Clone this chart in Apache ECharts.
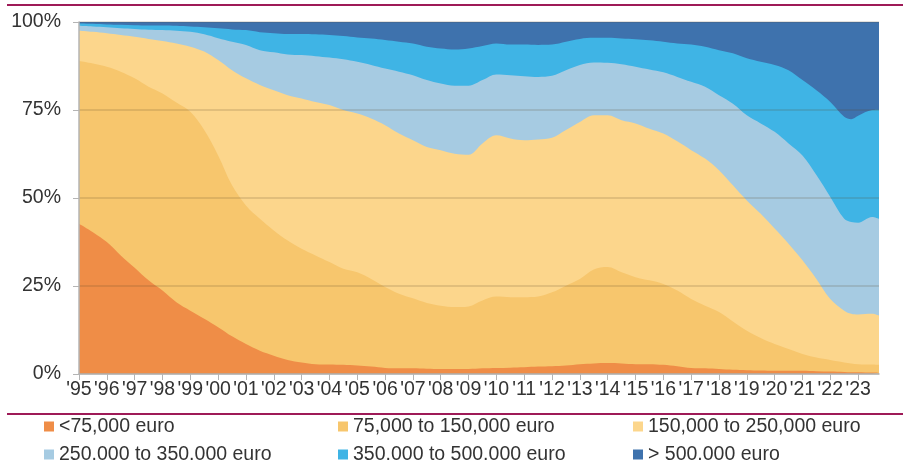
<!DOCTYPE html>
<html>
<head>
<meta charset="utf-8">
<title>House price classes</title>
<script src="https://cdn.jsdelivr.net/npm/echarts@6/dist/echarts.min.js"></script>
<style>
  html, body { margin: 0; padding: 0; background: #fff; }
  #chart { width: 906px; height: 461px; }
</style>
</head>
<body>
<div id="chart"></div>
<script>
// half-year periods (decimal years)
var periods = [1995, 1995.5, 1996, 1996.5, 1997, 1997.5, 1998, 1998.5, 1999, 1999.5,
    2000, 2000.5, 2001, 2001.5, 2002, 2002.5, 2003, 2003.5, 2004, 2004.5,
    2005, 2005.5, 2006, 2006.5, 2007, 2007.5, 2008, 2008.5, 2009, 2009.5,
    2010, 2010.5, 2011, 2011.5, 2012, 2012.5, 2013, 2013.5, 2014, 2014.5,
    2015, 2015.5, 2016, 2016.5, 2017, 2017.5, 2018, 2018.5, 2019, 2019.5,
    2020, 2020.5, 2021, 2021.5, 2022, 2022.5, 2022.75, 2023, 2023.5, 2023.75];

// share of transactions per price class (%)
var below75 = [42.7, 40.3, 37.5, 33.7, 30.2, 26.6, 23.7, 20.4, 18.0, 15.7,
    13.3, 10.7, 8.5, 6.6, 5.2, 4.0, 3.3, 2.8, 2.7, 2.6,
    2.4, 2.1, 1.7, 1.6, 1.6, 1.5, 1.4, 1.4, 1.4, 1.6,
    1.7, 1.8, 1.9, 2.1, 2.2, 2.4, 2.8, 3.0, 3.1, 3.0,
    2.8, 2.8, 2.6, 2.2, 1.7, 1.6, 1.4, 1.2, 1.1, 1.0,
    0.9, 0.9, 0.9, 0.8, 0.7, 0.6, 0.5, 0.5, 0.4, 0.4];
var from75to150 = [46.2, 47.9, 49.8, 52.2, 53.8, 55.0, 56.0, 56.7, 56.5, 53.6,
    48.8, 42.9, 39.4, 37.5, 35.6, 33.9, 32.3, 30.9, 29.1, 27.3,
    26.5, 24.9, 23.0, 21.2, 19.9, 18.7, 18.0, 17.6, 17.8, 19.3,
    20.3, 20.0, 19.9, 19.9, 21.0, 22.7, 24.2, 26.7, 27.3, 25.9,
    24.7, 23.8, 23.0, 21.5, 19.6, 17.8, 16.2, 13.7, 11.2, 9.2,
    7.6, 6.2, 4.8, 3.9, 3.3, 2.7, 2.5, 2.3, 2.3, 2.2];
var from150to250 = [8.6, 9.0, 9.5, 10.4, 11.8, 13.6, 14.9, 16.8, 18.5, 22.3,
    27.1, 32.7, 36.1, 38.0, 39.8, 41.3, 42.7, 43.6, 44.6, 45.1,
    45.1, 45.6, 46.0, 45.5, 44.9, 44.3, 44.2, 43.6, 43.1, 44.6,
    45.8, 45.1, 44.6, 44.6, 43.9, 44.2, 44.6, 43.8, 43.1, 43.2,
    43.7, 43.1, 42.7, 42.4, 42.3, 41.8, 40.3, 38.7, 37.0, 35.3,
    32.8, 29.9, 26.6, 22.3, 17.3, 14.7, 14.1, 14.1, 14.4, 14.0];
var from250to350 = [1.4, 1.5, 1.7, 1.9, 2.2, 2.6, 3.1, 3.6, 4.2, 4.9,
    6.2, 8.1, 9.5, 9.9, 10.8, 11.6, 12.3, 13.0, 13.5, 14.4,
    14.7, 15.2, 16.1, 17.6, 18.5, 19.0, 18.9, 19.3, 19.6, 18.0,
    17.3, 18.0, 18.2, 17.8, 17.6, 17.0, 16.2, 15.0, 14.9, 15.9,
    16.1, 16.8, 17.4, 18.3, 19.4, 20.4, 21.3, 23.2, 24.2, 25.7,
    27.5, 28.5, 29.8, 29.5, 29.0, 26.1, 26.1, 26.1, 27.5, 27.5];
var from350to500 = [0.7, 0.8, 0.8, 1.0, 1.1, 1.2, 1.3, 1.4, 1.5, 2.0,
    2.8, 3.5, 4.2, 5.1, 5.4, 5.8, 6.0, 6.2, 6.4, 6.6,
    6.9, 7.5, 8.1, 8.5, 9.0, 9.5, 10.0, 10.3, 10.6, 9.7,
    8.8, 8.7, 9.0, 9.1, 8.9, 8.1, 7.4, 7.0, 7.1, 7.3,
    7.8, 8.3, 8.7, 9.5, 10.6, 11.4, 12.8, 14.3, 16.2, 17.5,
    19.0, 20.8, 21.4, 24.1, 27.0, 29.0, 29.2, 30.4, 30.4, 31.0];
var above500 = [0.4, 0.5, 0.7, 0.8, 0.9, 1.0, 1.0, 1.1, 1.3, 1.5,
    1.8, 2.1, 2.3, 2.9, 3.2, 3.4, 3.4, 3.5, 3.7, 4.0,
    4.4, 4.7, 5.1, 5.6, 6.1, 7.0, 7.5, 7.8, 7.5, 6.8,
    6.1, 6.4, 6.4, 6.5, 6.4, 5.6, 4.8, 4.5, 4.5, 4.7,
    4.9, 5.2, 5.6, 6.1, 6.4, 7.0, 8.0, 8.9, 10.3, 11.3,
    12.2, 13.7, 16.5, 19.4, 22.7, 26.9, 27.6, 26.6, 25.0, 24.9];

var yearTicks = [1995, 1996, 1997, 1998, 1999, 2000, 2001, 2002, 2003, 2004,
    2005, 2006, 2007, 2008, 2009, 2010, 2011, 2012, 2013, 2014,
    2015, 2016, 2017, 2018, 2019, 2020, 2021, 2022, 2023];

var names = ['<75,000 euro', '75,000 to 150,000 euro', '150,000 to 250,000 euro',
    '250.000 to 350.000 euro', '350.000 to 500.000 euro', '> 500.000 euro'];
var values = [below75, from75to150, from150to250, from250to350, from350to500, above500];
var colors = ['#EF8D47', '#F7C66D', '#FCD68C', '#A6CBE2', '#3FB4E5', '#3E72AD'];

var font = 'Arial, "Liberation Sans", sans-serif';
var textCol = '#333333';
var axisCol = '#b4b4b4';
var maroon = '#9e1a57';

// running totals, so each band is filled from 0 up to its own top
// (stack on a value x axis did not render, so the stacking is done here)
var tops = [];
for (var i = 0; i < values.length; i++) {
    var row = [];
    for (var j = 0; j < periods.length; j++) {
        var below = i > 0 ? tops[i - 1][j][1] : 0;
        row.push([periods[j], Math.round((below + values[i][j]) * 100) / 100]);
    }
    tops.push(row);
}

// highest band first, lower bands painted over it
var series = [];
for (var s = values.length - 1; s >= 0; s--) {
    series.push({
        name: names[s],
        type: 'line',
        smooth: 0.35,
        symbol: 'none',
        lineStyle: { width: 0 },
        areaStyle: { color: colors[s], opacity: 1, origin: 'start' },
        itemStyle: { color: colors[s] },
        data: tops[s]
    });
}

// legend drawn as 3 columns x 2 rows
var legendX = [44, 338, 633];
var legendY = [426.5, 454.5];
var graphics = [
    { type: 'rect', shape: { x: 7, y: 4, width: 896, height: 2 }, style: { fill: maroon }, silent: true },
    { type: 'rect', shape: { x: 7, y: 413, width: 896, height: 2 }, style: { fill: maroon }, silent: true }
];
for (var k = 0; k < names.length; k++) {
    var col = k % 3, rw = Math.floor(k / 3);
    graphics.push({
        type: 'rect',
        shape: { x: legendX[col], y: legendY[rw] - 5, width: 10, height: 10 },
        style: { fill: colors[k] },
        silent: true
    });
    graphics.push({
        type: 'text',
        x: legendX[col] + 15,
        y: legendY[rw],
        style: {
            text: names[k],
            fill: textCol,
            font: '19.5px ' + font,
            verticalAlign: 'middle'
        },
        silent: true
    });
}

var myChart = echarts.init(document.getElementById('chart'), null, { renderer: 'canvas' });

var option = {
    animation: false,
    color: colors,
    grid: { left: 79, right: 27, top: 22, bottom: 87 },
    xAxis: {
        type: 'value',
        min: 1995,
        max: 2023.75,
        interval: 1,
        z: 5,
        axisLine: { lineStyle: { color: axisCol, width: 1.5 } },
        axisTick: { show: true, length: 6, lineStyle: { color: axisCol }, customValues: yearTicks },
        axisLabel: {
            customValues: yearTicks,
            margin: 6,
            fontFamily: font,
            fontSize: 19.5,
            color: textCol,
            formatter: function (v) {
                if (v % 1 !== 0) return '';
                return "'" + String(v).slice(2, 4);
            }
        },
        splitLine: { show: false }
    },
    yAxis: {
        type: 'value',
        min: 0,
        max: 100,
        interval: 25,
        z: 5,
        axisLine: { show: true, lineStyle: { color: axisCol, width: 1.5 } },
        axisTick: { show: true, length: 6, lineStyle: { color: axisCol } },
        axisLabel: {
            margin: 18,
            fontFamily: font,
            fontSize: 19.5,
            color: textCol,
            formatter: '{value}%'
        },
        splitLine: { show: true, lineStyle: { color: 'rgba(90,70,40,0.16)', width: 2 } }
    },
    graphic: graphics,
    series: series
};

myChart.setOption(option);
</script>
</body>
</html>
